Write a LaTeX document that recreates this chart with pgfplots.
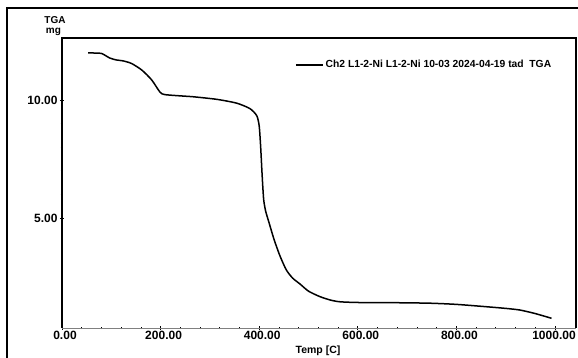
\documentclass[border=0pt]{standalone}
\usepackage{fontspec}
\setmainfont{Liberation Sans}
\usepackage{pgfplots}
\pgfplotsset{compat=1.18}
\begin{document}
\begin{tikzpicture}
\begin{axis}[
  at={(0pt,0pt)}, anchor=south west,
  scale only axis,
  width=514pt, height=290pt,
  xmin=0, xmax=1042.6,
  ymin=0.339, ymax=12.63,
  xtick={0,200,400,600,800,1000},
  xticklabels={0.00,200.00,400.00,600.00,800.00,\hspace*{-8pt}1000.00},
  ytick={5,10},
  minor x tick num=4,
  minor y tick num=4,
  xtick pos=bottom, ytick pos=left,
  tick align=center,
  major tick length=4pt, minor tick length=2.5pt,
  tick style={black, line width=0.7pt},
  axis line style={draw=none},
  /pgf/number format/assume math mode=true,
  /pgf/number format/fixed, /pgf/number format/fixed zerofill,
  /pgf/number format/precision=2,
  /pgf/number format/1000 sep={},
  ticklabel style={font=\fontsize{12}{12}\selectfont\bfseries},
  xticklabel style={yshift=2pt, xshift=3pt},
  yticklabel style={xshift=1pt},
  legend style={draw=none, fill=none, at={(rel axis cs:0.4533,0.907)}, anchor=west,
    inner sep=0pt, font=\fontsize{10.3}{10.3}\selectfont\bfseries},
  legend image code/.code={\draw[#1] (0pt,0pt) -- (27pt,0pt);},
  clip=false,
]
\addplot[black, line width=1.5pt, smooth, tension=0.4] coordinates {
(53,12.00) (70,11.99) (81,11.97) (97,11.78) (110,11.70) (124,11.66) (141,11.55)
(162,11.27) (182,10.85) (199,10.33) (209,10.23) (245,10.17) (266,10.14) (314,10.03)
(354,9.87) (381,9.64) (395,9.34) (400,8.9) (403,8.0) (406,6.8) (409,5.8) (413,5.3)
(420,4.8) (430,4.1) (442,3.4) (455,2.8) (468,2.45) (483,2.2) (500,1.9) (523,1.67)
(545,1.52) (564,1.45) (600,1.42) (680,1.41) (746,1.39) (800,1.34) (861,1.24)
(900,1.17) (929,1.10) (960,0.95) (993,0.75)
};
\addlegendentry{Ch2 L1-2-Ni L1-2-Ni 10-03 2024-04-19 tad\ \ TGA}
\draw[black, line width=1.6pt] (rel axis cs:0,0) -- (rel axis cs:0,1) -- (rel axis cs:1,1) -- (rel axis cs:1,0);
\draw[gray, line width=0.6pt] (rel axis cs:0,0) -- (rel axis cs:1,0);
\end{axis}
\draw[black, line width=2.5pt] (-55pt,-31pt) -- (-55pt,320pt) -- (517pt,320pt);
\node[font=\fontsize{10}{10}\selectfont\bfseries] at (-7pt,308pt) {TGA};
\node[font=\fontsize{10}{10}\selectfont\bfseries] at (-8.5pt,296pt) {mg};
\node[font=\fontsize{10.5}{10.5}\selectfont\bfseries] at (256pt,-23pt) {Temp [C]};
\pgfresetboundingbox
\useasboundingbox (-62pt,-30pt) rectangle (516pt,328pt);
\end{tikzpicture}
\end{document}
